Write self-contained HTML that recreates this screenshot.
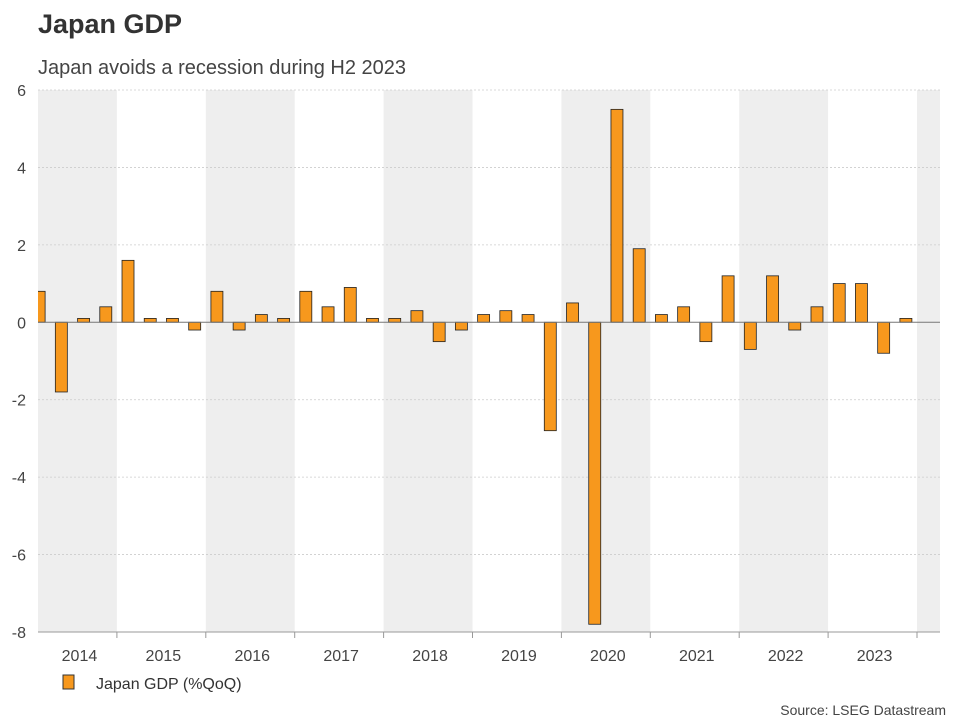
<!DOCTYPE html>
<html><head><meta charset="utf-8"><style>
body{margin:0;background:#fff;font-family:"Liberation Sans",Arial,sans-serif;}
svg text{font-family:"Liberation Sans",Arial,sans-serif;}
</style></head><body>
<svg width="960" height="720" xmlns="http://www.w3.org/2000/svg">
<text x="38" y="33" font-size="27" font-weight="bold" fill="#333">Japan GDP</text>
<text x="38" y="74" font-size="20" fill="#444">Japan avoids a recession during H2 2023</text>
<g id="bands"></g><g id="grid"></g><g id="bars"></g><g id="axes"></g>
<rect x="63" y="675" width="11" height="14" fill="#f7981d" stroke="#333" stroke-width="1"/>
<text x="96" y="689" font-size="16" fill="#333">Japan GDP (%QoQ)</text>
<text x="946" y="715" font-size="14" fill="#444" text-anchor="end">Source: LSEG Datastream</text>
</svg>
<script>
const years=[2014,2015,2016,2017,2018,2019,2020,2021,2022,2023];
const gdp=[0.8,-1.8,0.1,0.4, 1.6,0.1,0.1,-0.2, 0.8,-0.2,0.2,0.1, 0.8,0.4,0.9,0.1, 0.1,0.3,-0.5,-0.2, 0.2,0.3,0.2,-2.8, 0.5,-7.8,5.5,1.9, 0.2,0.4,-0.5,1.2, -0.7,1.2,-0.2,0.4, 1.0,1.0,-0.8,0.1];
const yTicks=[-8,-6,-4,-2,0,2,4,6];
const NS="http://www.w3.org/2000/svg";
const L=38,R=940,T=90,B=632,yMin=-8,yMax=6,x0=28,yearW=88.9;
const y=v=>T+(yMax-v)/(yMax-yMin)*(B-T);
const xq=i=>x0+(i+0.5)*yearW/4;
function mk(tag,attrs,parent){const e=document.createElementNS(NS,tag);for(const k in attrs)e.setAttribute(k,attrs[k]);document.getElementById(parent).appendChild(e);return e;}
for(let k=0;k<=years.length;k+=2){const xa=Math.max(L,x0+k*yearW),xb=Math.min(R,x0+(k+1)*yearW);if(xb>xa){const r=mk('rect',{x:xa,y:T,width:xb-xa,height:B-T,fill:'#eeeeee'},'bands');

}}
yTicks.forEach(v=>{if(v!==0&&v!==yMin){const g=mk('line',{x1:L,x2:R,y1:y(v),y2:y(v),stroke:'#ccc','stroke-dasharray':'2,2','stroke-width':0.8},'grid');

}
const t=mk('text',{x:26,y:y(v)+6,'font-size':16,fill:'#444','text-anchor':'end'},'axes');t.textContent=v;

});
const cp=mk('clipPath',{id:'pc'},'bars');mk('rect',{x:L,y:T,width:R-L,height:B-T},'bars');cp.appendChild(document.getElementById('bars').lastChild);
gdp.forEach((v,i)=>{const b=mk('rect',{x:xq(i)-6,y:Math.min(y(v),y(0)),width:12,height:Math.abs(y(v)-y(0)),fill:'#f7981d',stroke:'#222','stroke-width':0.8,'clip-path':'url(#pc)'},'bars');

});
mk('line',{x1:L,x2:R,y1:y(0),y2:y(0),stroke:'#777','stroke-width':1},'axes');
mk('line',{x1:L,x2:R,y1:B,y2:B,stroke:'#999'},'axes');
for(let k=1;k<=years.length;k++){mk('line',{x1:x0+k*yearW,x2:x0+k*yearW,y1:B,y2:B+6,stroke:'#999'},'axes');}
years.forEach((yr,k)=>{const xa=Math.max(L,x0+k*yearW),xb=x0+(k+1)*yearW;const t=mk('text',{x:(xa+xb)/2+2,y:661,'font-size':16,fill:'#444','text-anchor':'middle'},'axes');t.textContent=yr;

});
</script>
</body></html>
